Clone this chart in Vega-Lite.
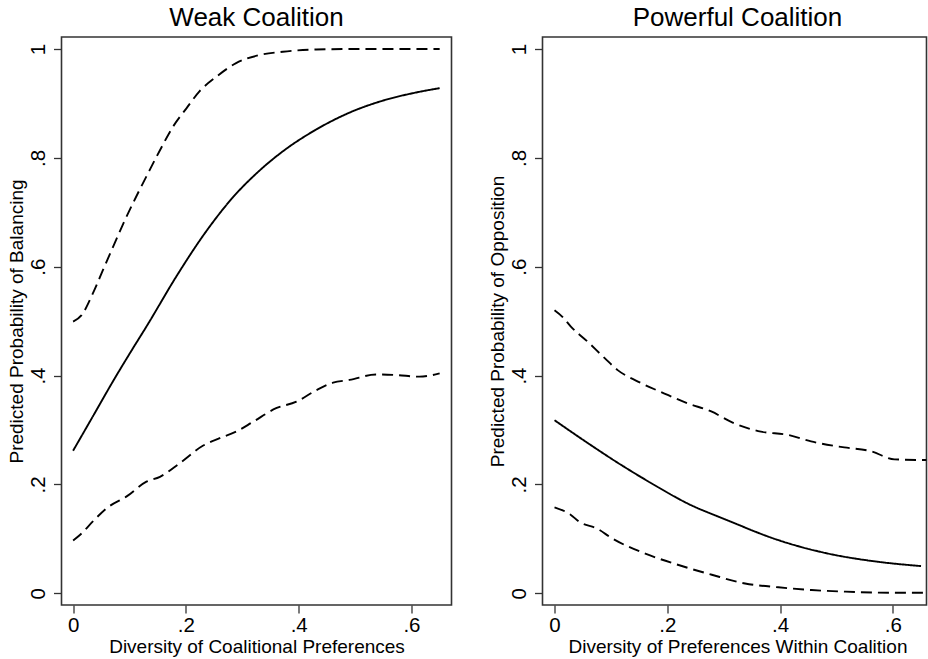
{
  "$schema": "https://vega.github.io/schema/vega-lite/v6.json",
  "padding": {"left": 6.5, "top": 4, "right": 0, "bottom": 0},
  "background": "white",
  "config": {
    "font": "Liberation Sans",
    "view": {"stroke": "#333333", "strokeWidth": 1.6},
    "axis": {
      "grid": false,
      "domain": false,
      "tickColor": "#333333",
      "tickWidth": 1.3,
      "tickSize": 8,
      "labelFont": "Liberation Sans",
      "labelFontSize": 20.5,
      "labelColor": "black",
      "titleFont": "Liberation Sans",
      "titleFontSize": 19,
      "titleFontWeight": "normal",
      "titleColor": "black"
    },
    "title": {"font": "Liberation Sans", "fontSize": 26, "fontWeight": "normal", "color": "black", "anchor": "middle"}
  },
  "datasets": {
    "curves": [
      {"panel": "Weak", "series": "Upper", "x": 0, "p": 0.499},
      {"panel": "Weak", "series": "Upper", "x": 0.015, "p": 0.511},
      {"panel": "Weak", "series": "Upper", "x": 0.035, "p": 0.551},
      {"panel": "Weak", "series": "Upper", "x": 0.053, "p": 0.594},
      {"panel": "Weak", "series": "Upper", "x": 0.071, "p": 0.637},
      {"panel": "Weak", "series": "Upper", "x": 0.092, "p": 0.686},
      {"panel": "Weak", "series": "Upper", "x": 0.112, "p": 0.729},
      {"panel": "Weak", "series": "Upper", "x": 0.133, "p": 0.772},
      {"panel": "Weak", "series": "Upper", "x": 0.154, "p": 0.814},
      {"panel": "Weak", "series": "Upper", "x": 0.177, "p": 0.857},
      {"panel": "Weak", "series": "Upper", "x": 0.201, "p": 0.891},
      {"panel": "Weak", "series": "Upper", "x": 0.224, "p": 0.922},
      {"panel": "Weak", "series": "Upper", "x": 0.254, "p": 0.949},
      {"panel": "Weak", "series": "Upper", "x": 0.289, "p": 0.974},
      {"panel": "Weak", "series": "Upper", "x": 0.331, "p": 0.989},
      {"panel": "Weak", "series": "Upper", "x": 0.372, "p": 0.995},
      {"panel": "Weak", "series": "Upper", "x": 0.431, "p": 0.999},
      {"panel": "Weak", "series": "Upper", "x": 0.5, "p": 1.0},
      {"panel": "Weak", "series": "Upper", "x": 0.65, "p": 1.0},

      {"panel": "Weak", "series": "Estimate", "x": 0, "p": 0.262},
      {"panel": "Weak", "series": "Estimate", "x": 0.035, "p": 0.325},
      {"panel": "Weak", "series": "Estimate", "x": 0.071, "p": 0.39},
      {"panel": "Weak", "series": "Estimate", "x": 0.106, "p": 0.45},
      {"panel": "Weak", "series": "Estimate", "x": 0.13, "p": 0.49},
      {"panel": "Weak", "series": "Estimate", "x": 0.183, "p": 0.582},
      {"panel": "Weak", "series": "Estimate", "x": 0.236, "p": 0.665},
      {"panel": "Weak", "series": "Estimate", "x": 0.283, "p": 0.727},
      {"panel": "Weak", "series": "Estimate", "x": 0.331, "p": 0.777},
      {"panel": "Weak", "series": "Estimate", "x": 0.372, "p": 0.812},
      {"panel": "Weak", "series": "Estimate", "x": 0.431, "p": 0.852},
      {"panel": "Weak", "series": "Estimate", "x": 0.49, "p": 0.883},
      {"panel": "Weak", "series": "Estimate", "x": 0.549, "p": 0.905},
      {"panel": "Weak", "series": "Estimate", "x": 0.608, "p": 0.92},
      {"panel": "Weak", "series": "Estimate", "x": 0.65, "p": 0.928},

      {"panel": "Weak", "series": "Lower", "x": 0, "p": 0.097},
      {"panel": "Weak", "series": "Lower", "x": 0.012, "p": 0.107},
      {"panel": "Weak", "series": "Lower", "x": 0.035, "p": 0.132},
      {"panel": "Weak", "series": "Lower", "x": 0.059, "p": 0.156},
      {"panel": "Weak", "series": "Lower", "x": 0.095, "p": 0.178},
      {"panel": "Weak", "series": "Lower", "x": 0.13, "p": 0.205},
      {"panel": "Weak", "series": "Lower", "x": 0.154, "p": 0.214},
      {"panel": "Weak", "series": "Lower", "x": 0.189, "p": 0.239},
      {"panel": "Weak", "series": "Lower", "x": 0.23, "p": 0.271},
      {"panel": "Weak", "series": "Lower", "x": 0.26, "p": 0.285},
      {"panel": "Weak", "series": "Lower", "x": 0.289, "p": 0.297},
      {"panel": "Weak", "series": "Lower", "x": 0.319, "p": 0.315},
      {"panel": "Weak", "series": "Lower", "x": 0.36, "p": 0.34},
      {"panel": "Weak", "series": "Lower", "x": 0.396, "p": 0.352},
      {"panel": "Weak", "series": "Lower", "x": 0.431, "p": 0.373},
      {"panel": "Weak", "series": "Lower", "x": 0.461, "p": 0.387},
      {"panel": "Weak", "series": "Lower", "x": 0.49, "p": 0.392},
      {"panel": "Weak", "series": "Lower", "x": 0.537, "p": 0.402},
      {"panel": "Weak", "series": "Lower", "x": 0.573, "p": 0.401},
      {"panel": "Weak", "series": "Lower", "x": 0.614, "p": 0.398},
      {"panel": "Weak", "series": "Lower", "x": 0.65, "p": 0.404},

      {"panel": "Powerful", "series": "Upper", "x": 0, "p": 0.52},
      {"panel": "Powerful", "series": "Upper", "x": 0.015, "p": 0.507},
      {"panel": "Powerful", "series": "Upper", "x": 0.029, "p": 0.49},
      {"panel": "Powerful", "series": "Upper", "x": 0.059, "p": 0.462},
      {"panel": "Powerful", "series": "Upper", "x": 0.089, "p": 0.432},
      {"panel": "Powerful", "series": "Upper", "x": 0.112, "p": 0.41},
      {"panel": "Powerful", "series": "Upper", "x": 0.148, "p": 0.389},
      {"panel": "Powerful", "series": "Upper", "x": 0.195, "p": 0.367},
      {"panel": "Powerful", "series": "Upper", "x": 0.236, "p": 0.349},
      {"panel": "Powerful", "series": "Upper", "x": 0.278, "p": 0.334},
      {"panel": "Powerful", "series": "Upper", "x": 0.315, "p": 0.314},
      {"panel": "Powerful", "series": "Upper", "x": 0.366, "p": 0.297},
      {"panel": "Powerful", "series": "Upper", "x": 0.414, "p": 0.291},
      {"panel": "Powerful", "series": "Upper", "x": 0.455, "p": 0.279},
      {"panel": "Powerful", "series": "Upper", "x": 0.514, "p": 0.268},
      {"panel": "Powerful", "series": "Upper", "x": 0.561, "p": 0.261},
      {"panel": "Powerful", "series": "Upper", "x": 0.603, "p": 0.246},
      {"panel": "Powerful", "series": "Upper", "x": 0.647, "p": 0.245},
      {"panel": "Powerful", "series": "Upper", "x": 0.66, "p": 0.245},

      {"panel": "Powerful", "series": "Estimate", "x": 0, "p": 0.318},
      {"panel": "Powerful", "series": "Estimate", "x": 0.059, "p": 0.276},
      {"panel": "Powerful", "series": "Estimate", "x": 0.118, "p": 0.236},
      {"panel": "Powerful", "series": "Estimate", "x": 0.177, "p": 0.199},
      {"panel": "Powerful", "series": "Estimate", "x": 0.236, "p": 0.165},
      {"panel": "Powerful", "series": "Estimate", "x": 0.307, "p": 0.134},
      {"panel": "Powerful", "series": "Estimate", "x": 0.396, "p": 0.098},
      {"panel": "Powerful", "series": "Estimate", "x": 0.485, "p": 0.073},
      {"panel": "Powerful", "series": "Estimate", "x": 0.573, "p": 0.058},
      {"panel": "Powerful", "series": "Estimate", "x": 0.65, "p": 0.05},

      {"panel": "Powerful", "series": "Lower", "x": 0, "p": 0.158},
      {"panel": "Powerful", "series": "Lower", "x": 0.029, "p": 0.144},
      {"panel": "Powerful", "series": "Lower", "x": 0.043, "p": 0.132},
      {"panel": "Powerful", "series": "Lower", "x": 0.077, "p": 0.118},
      {"panel": "Powerful", "series": "Lower", "x": 0.102, "p": 0.101},
      {"panel": "Powerful", "series": "Lower", "x": 0.161, "p": 0.073},
      {"panel": "Powerful", "series": "Lower", "x": 0.22, "p": 0.052},
      {"panel": "Powerful", "series": "Lower", "x": 0.279, "p": 0.034},
      {"panel": "Powerful", "series": "Lower", "x": 0.338, "p": 0.018},
      {"panel": "Powerful", "series": "Lower", "x": 0.397, "p": 0.011},
      {"panel": "Powerful", "series": "Lower", "x": 0.456, "p": 0.006},
      {"panel": "Powerful", "series": "Lower", "x": 0.516, "p": 0.003},
      {"panel": "Powerful", "series": "Lower", "x": 0.604, "p": 0.001},
      {"panel": "Powerful", "series": "Lower", "x": 0.66, "p": 0.001}
    ]
  },
  "spacing": 35,
  "hconcat": [
    {
      "width": 390,
      "height": 568,
      "title": {"text": "Weak Coalition", "offset": -15, "baseline": "alphabetic"},
      "layer": [
        {
          "mark": {"type": "rule", "color": "#b4b4b4", "strokeWidth": 1.6},
          "encoding": {"y": {"datum": 0, "type": "quantitative"}}
        },
        {
          "data": {"name": "curves"},
          "transform": [{"filter": "datum.panel == 'Weak'"}],
          "mark": {"type": "line", "color": "black", "strokeWidth": 1.9, "interpolate": "monotone", "clip": true},
          "encoding": {
            "x": {
              "field": "x", "type": "quantitative",
              "scale": {"domain": [-0.0206, 0.671], "nice": false, "zero": false},
              "axis": {"values": [0, 0.2, 0.4, 0.6], "title": "Diversity of Coalitional Preferences",
                       "labelExpr": "datum.value == 0 ? '0' : replace(format(datum.value, '.1f'), '0.', '.')",
                       "labelPadding": 2, "titlePadding": 2}
            },
            "y": {
              "field": "p", "type": "quantitative",
              "scale": {"domain": [-0.0215, 1.022], "nice": false, "zero": false},
              "axis": {"values": [0, 0.2, 0.4, 0.6, 0.8, 1], "title": "Predicted Probability of Balancing",
                       "labelExpr": "datum.value == 0 ? '0' : datum.value == 1 ? '1' : replace(format(datum.value, '.1f'), '0.', '.')",
                       "labelAngle": -90, "labelAlign": "center", "labelBaseline": "bottom", "labelPadding": 5, "titlePadding": 2}
            },
            "detail": {"field": "series"},
            "strokeDash": {
              "field": "series", "type": "nominal",
              "scale": {"domain": ["Estimate", "Lower", "Upper"], "range": [[1, 0], [11, 6], [11, 6]]},
              "legend": null
            }
          }
        }
      ]
    },
    {
      "width": 384,
      "height": 568,
      "title": {"text": "Powerful Coalition", "offset": -15, "baseline": "alphabetic", "dx": 3},
      "layer": [
        {
          "mark": {"type": "rule", "color": "#b4b4b4", "strokeWidth": 1.6},
          "encoding": {"y": {"datum": 0, "type": "quantitative"}}
        },
        {
          "data": {"name": "curves"},
          "transform": [{"filter": "datum.panel == 'Powerful'"}],
          "mark": {"type": "line", "color": "black", "strokeWidth": 1.9, "interpolate": "monotone", "clip": true},
          "encoding": {
            "x": {
              "field": "x", "type": "quantitative",
              "scale": {"domain": [-0.0213, 0.6597], "nice": false, "zero": false},
              "axis": {"values": [0, 0.2, 0.4, 0.6], "title": "Diversity of Preferences Within Coalition",
                       "labelExpr": "datum.value == 0 ? '0' : replace(format(datum.value, '.1f'), '0.', '.')",
                       "labelPadding": 2, "titlePadding": 2, "titleX": 195}
            },
            "y": {
              "field": "p", "type": "quantitative",
              "scale": {"domain": [-0.0215, 1.022], "nice": false, "zero": false},
              "axis": {"values": [0, 0.2, 0.4, 0.6, 0.8, 1], "title": "Predicted Probability of Opposition",
                       "labelExpr": "datum.value == 0 ? '0' : datum.value == 1 ? '1' : replace(format(datum.value, '.1f'), '0.', '.')",
                       "labelAngle": -90, "labelAlign": "center", "labelBaseline": "bottom", "labelPadding": 5, "titlePadding": 2}
            },
            "detail": {"field": "series"},
            "strokeDash": {
              "field": "series", "type": "nominal",
              "scale": {"domain": ["Estimate", "Lower", "Upper"], "range": [[1, 0], [11, 6], [11, 6]]},
              "legend": null
            }
          }
        }
      ]
    }
  ]
}
